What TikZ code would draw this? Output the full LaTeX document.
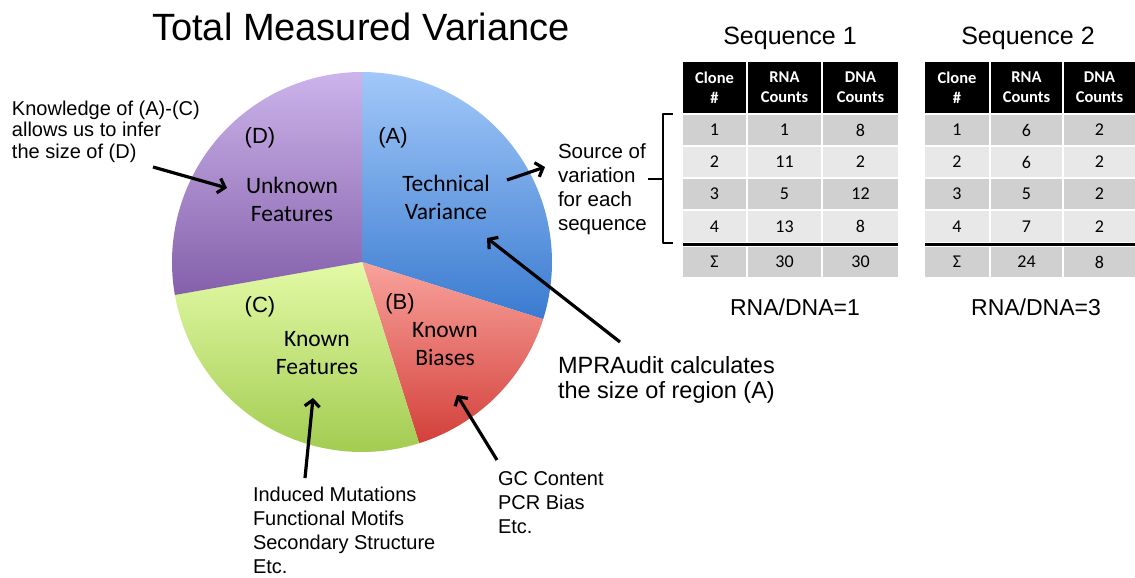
\documentclass[tikz,border=0pt]{standalone}
\usepackage{fontspec}
\setmainfont{Liberation Sans}
\newfontfamily\calibri{Carlito}
\usetikzlibrary{arrows.meta,calc}

\definecolor{blueTop}{HTML}{A2C8F9}
\definecolor{blueBot}{HTML}{3A7BD0}
\definecolor{redTop}{HTML}{F9A29C}
\definecolor{redBot}{HTML}{D3403A}
\definecolor{greenTop}{HTML}{E3FAA6}
\definecolor{greenBot}{HTML}{9FC94C}
\definecolor{purpleTop}{HTML}{CCB4EB}
\definecolor{purpleBot}{HTML}{8460AA}
\definecolor{rowdark}{HTML}{D0D0D0}
\definecolor{rowlight}{HTML}{E8E8E8}

% row extents shared by both count tables (header, four clones, sum)
\def\rowtops{{61,115,147,179,211,247}}
\def\rowbots{{112,145,177,209,242,277}}

% #1 name prefix, #2 left edges, #3 right edges, #4 body rows
\newcommand\seqtable[4]{%
  \foreach [count=\k from 0] \h in {Clone\\\#, RNA\\Counts, DNA\\Counts} {
    \pgfmathsetmacro\xl{{#2}[\k]}
    \pgfmathsetmacro\xr{{#3}[\k]}
    \node[headcell, minimum width=\xr-\xl, minimum height=51]
      (#1-0-\k) at ({(\xl+\xr)/2},87.5) {\h};
  }
  \foreach [count=\r] \row in {#4} {
    \ifodd\r \def\cf{rowdark}\else \def\cf{rowlight}\fi
    \foreach [count=\k from 0] \v in \row {
      \pgfmathsetmacro\xl{{#2}[\k]}
      \pgfmathsetmacro\xr{{#3}[\k]}
      \pgfmathsetmacro\yt{\rowtops[\r]}
      \pgfmathsetmacro\yb{\rowbots[\r]}
      \node[bodycell, fill=\cf, minimum width=\xr-\xl, minimum height=\yb-\yt]
        (#1-\r-\k) at ({(\xl+\xr)/2},{(\yt+\yb)/2}) {\v};
    }
  }
  \draw[rule] ($(#1-4-0.south west)+(0,2.5)$) -- ($(#1-4-2.south east)+(0,2.5)$);
}

\begin{document}
\begin{tikzpicture}[x=1pt, y=-1pt,
  plain/.style={inner sep=0pt, outer sep=0pt},
  % multi-line nodes are placed by the baseline of their last line
  note/.style={plain, align=left, anchor=base west, font=\fontsize{20}{21.5}\selectfont},
  heading/.style={plain, anchor=base},
  slicelbl/.style={plain, anchor=base, font=\fontsize{22}{26}\selectfont},
  slicename/.style={plain, align=center, anchor=base, font=\calibri\fontsize{23.5}{27.5}\selectfont},
  headcell/.style={plain, fill=black, text=white, align=center, font=\calibri\bfseries\fontsize{16.5}{20}\selectfont},
  bodycell/.style={plain, font=\calibri\fontsize{18}{20}\selectfont},
  pointer/.style={line width=3.2pt, -{Straight Barb[length=6.5pt,width=15pt]}},
  bracket/.style={line width=2pt, line join=round},
  rule/.style={line width=3pt},
]
\useasboundingbox (0,0) rectangle (1135,578);

% ---- pie chart ----
\coordinate (O) at (362,262);
\shade[top color=blueTop, bottom color=blueBot]
  (O) -- +(-90:190) arc[start angle=-90, end angle=17.5, radius=190] -- cycle;
\shade[top color=redTop, bottom color=redBot]
  (O) -- +(17.5:190) arc[start angle=17.5, end angle=72.5, radius=190] -- cycle;
\shade[top color=greenTop, bottom color=greenBot]
  (O) -- +(72.5:190) arc[start angle=72.5, end angle=170, radius=190] -- cycle;
\shade[top color=purpleTop, bottom color=purpleBot]
  (O) -- +(170:190) arc[start angle=170, end angle=270, radius=190] -- cycle;

\node[heading, font=\fontsize{38}{44}\selectfont] (title) at (361,41) {Total Measured Variance};

\node[slicelbl] (labA) at (393,143) {(A)};
\node[slicelbl] (labB) at (400,309) {(B)};
\node[slicelbl] (labC) at (260,312) {(C)};
\node[slicelbl] (labD) at (260,143) {(D)};

\node[slicename] (techv) at (446,219) {Technical\\Variance};
\node[slicename] (unkf)  at (292,221) {Unknown\\Features};
\node[slicename] (knf)   at (317,374) {Known\\Features};
\node[slicename] (knb)   at (445,365) {Known\\Biases};

% ---- annotations ----
\node[note] (know) at (12,158) {Knowledge of (A)-(C)\\allows us to infer\\the size of (D)};
\node[note, font=\fontsize{20.5}{24}\selectfont] (src) at (558,230) {Source of\\variation\\for each\\sequence};
\node[note, font=\fontsize{23.5}{25}\selectfont] (mpra) at (558,398) {MPRAudit calculates\\the size of region (A)};
\node[note, font=\fontsize{20}{24}\selectfont] (featlist) at (253,573) {Induced Mutations\\Functional Motifs\\Secondary Structure\\Etc.};
\node[note, font=\fontsize{20}{24}\selectfont] (biaslist) at (498,533) {GC Content\\PCR Bias\\Etc.};

\coordinate (knowEnd)  at (153,167);
\coordinate (unkTip)   at (227,188);
\coordinate (techEnd)  at (507,180);
\coordinate (srcTip)   at (545,167);
\coordinate (mpraEnd)  at (620,342);
\coordinate (techTip)  at (487,238);
\coordinate (featEnd)  at (305,478);
\coordinate (knfTip)   at (313,398);
\coordinate (biasEnd)  at (497,460);
\coordinate (knbTip)   at (457,395);

\draw[pointer] (knowEnd) -- (unkTip);
\draw[pointer] (techEnd) -- (srcTip);
\draw[pointer] (mpraEnd) -- (techTip);
\draw[pointer] (featEnd) -- (knfTip);
\draw[pointer] (biasEnd) -- (knbTip);

% bracket grouping the clone rows
\coordinate (brTop) at (673,114);
\coordinate (brBot) at (673,243);
\coordinate (brMid) at (663,179);
\coordinate (brOut) at (648,179);
\draw[bracket] (brTop) -- (663,114) -- (663,243) -- (brBot);
\draw[bracket] (brMid) -- (brOut);

% ---- count tables ----
\node[heading, font=\fontsize{25}{30}\selectfont] (seqA) at (790,45) {Sequence 1};
\node[heading, font=\fontsize{25}{30}\selectfont] (seqB) at (1028,45) {Sequence 2};

\seqtable{ta}{683,748,823}{746,821,898}{{1,1,8},{2,11,2},{3,5,12},{4,13,8},{Σ,30,30}}
\seqtable{tb}{925,991,1064}{989,1062,1135}{{1,6,2},{2,6,2},{3,5,2},{4,7,2},{Σ,24,8}}

\node[heading, font=\fontsize{23}{28}\selectfont] (ratioA) at (795,315) {RNA/DNA=1};
\node[heading, font=\fontsize{23}{28}\selectfont] (ratioB) at (1036,315) {RNA/DNA=3};
\end{tikzpicture}
\end{document}
